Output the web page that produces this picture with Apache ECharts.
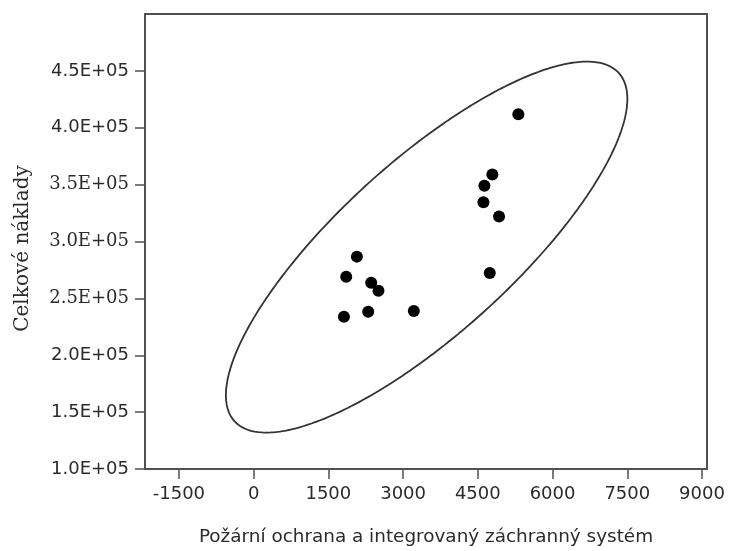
<!DOCTYPE html>
<html>
<head>
<meta charset="utf-8">
<script src="https://cdn.jsdelivr.net/npm/echarts@6/dist/echarts.min.js"></script>
<style>
  html, body { margin: 0; padding: 0; background: #ffffff; }
  #chart { width: 729px; height: 551px; }
</style>
</head>
<body>
<div id="chart"></div>
<script>
// Fire protection & integrated rescue system spending vs. total costs
const fireRescue = [5313, 4792, 4632, 4612, 4926, 4740, 2073, 1859, 2360, 2506, 1813, 2300, 3216];
const totalCosts = [411900, 358800, 349100, 334500, 321900, 272400, 286700, 269100, 263800, 256800, 233900, 238300, 238900];

const xTicks = [-1500, 0, 1500, 3000, 4500, 6000, 7500, 9000];
const xTickLabels = ['-1500', '0', '1500', '3000', '4500', '6000', '7500', '9000'];
const yTicks = [100000, 150000, 200000, 250000, 300000, 350000, 400000, 450000];
const yTickLabels = ['1.0E+05', '1.5E+05', '2.0E+05', '2.5E+05', '3.0E+05', '3.5E+05', '4.0E+05', '4.5E+05'];
const serifTickLabels = ['2.5E+05', '3.0E+05', '3.5E+05'];

const xTitle = 'Požární ochrana a integrovaný záchranný systém';
const yTitle = 'Celkové náklady';

// 95 % bivariate density ellipse: F(0.95; 2, n-2) quantile for n = 13
const F_95_2_11 = 3.9823;

function densityEllipse(xs, ys, fQuantile, steps) {
  const n = xs.length;
  const mx = xs.reduce((a, b) => a + b, 0) / n;
  const my = ys.reduce((a, b) => a + b, 0) / n;
  let sxx = 0, syy = 0, sxy = 0;
  for (let i = 0; i < n; i++) {
    const dx = xs[i] - mx, dy = ys[i] - my;
    sxx += dx * dx; syy += dy * dy; sxy += dx * dy;
  }
  sxx /= (n - 1); syy /= (n - 1); sxy /= (n - 1);
  const c = Math.sqrt(2 * (n - 1) / (n - 2) * fQuantile);
  // Cholesky factor of the covariance matrix
  const l11 = Math.sqrt(sxx);
  const l21 = sxy / l11;
  const l22 = Math.sqrt(syy - l21 * l21);
  const pts = [];
  for (let i = 0; i <= steps; i++) {
    const t = 2 * Math.PI * i / steps;
    const u = Math.cos(t), v = Math.sin(t);
    pts.push([mx + c * l11 * u, my + c * (l21 * u + l22 * v)]);
  }
  return pts;
}

const points = fireRescue.map((x, i) => [x, totalCosts[i]]);
const ellipse = densityEllipse(fireRescue, totalCosts, F_95_2_11, 360);

const frameColor = '#505050';
const textColor = '#2b2b2b';
const sansFont = "'DejaVu Sans', sans-serif";
const serifFont = "'DejaVu Serif', 'Liberation Serif', serif";

const chart = echarts.init(document.getElementById('chart'), null, { renderer: 'canvas' });
chart.setOption({
  animation: false,
  backgroundColor: '#ffffff',
  grid: {
    left: 145, right: 22, top: 14, bottom: 82,
    show: true, borderColor: frameColor, borderWidth: 2, backgroundColor: 'transparent'
  },
  xAxis: {
    type: 'value',
    min: -2180, max: 9100,
    name: xTitle,
    nameLocation: 'middle',
    nameGap: 59,
    nameTextStyle: { fontFamily: sansFont, fontSize: 18.4, color: textColor },
    axisLine: { show: true, onZero: false, lineStyle: { color: frameColor, width: 2 } },
    axisTick: { show: true, length: 10, customValues: xTicks, lineStyle: { color: frameColor, width: 1.5 } },
    axisLabel: {
      customValues: xTicks,
      margin: 16,
      fontFamily: sansFont, fontSize: 18, color: textColor,
      formatter: function (v) { return xTickLabels[xTicks.indexOf(v)] || ''; }
    },
    splitLine: { show: false }
  },
  yAxis: {
    type: 'value',
    min: 100000, max: 500000,
    name: yTitle,
    nameLocation: 'middle',
    nameRotate: 90,
    nameGap: 112,
    nameTextStyle: { fontFamily: serifFont, fontSize: 20, color: textColor, padding: [0, 14, 0, 0] },
    axisLine: { show: true, onZero: false, lineStyle: { color: frameColor, width: 2 } },
    axisTick: { show: true, length: 10, customValues: yTicks, lineStyle: { color: frameColor, width: 1.5 } },
    axisLabel: {
      customValues: yTicks,
      margin: 16,
      color: textColor,
      fontFamily: sansFont,
      fontSize: 18,
      richInheritPlainLabel: false,
      formatter: function (v) {
        const label = yTickLabels[yTicks.indexOf(v)] || '';
        // the middle band of labels is set in a serif face
        return serifTickLabels.indexOf(label) >= 0 ? '{ser|' + label + '}' : label;
      },
      rich: {
        ser: { fontFamily: serifFont, fontSize: 18, color: textColor }
      }
    },
    splitLine: { show: false }
  },
  series: [
    {
      type: 'line',
      data: ellipse,
      showSymbol: false,
      smooth: false,
      silent: true,
      lineStyle: { color: '#333333', width: 1.8 },
      z: 2
    },
    {
      type: 'scatter',
      data: points,
      symbol: 'circle',
      symbolSize: 12,
      itemStyle: { color: '#000000', opacity: 1 },
      z: 3
    }
  ]
});
</script>
</body>
</html>
